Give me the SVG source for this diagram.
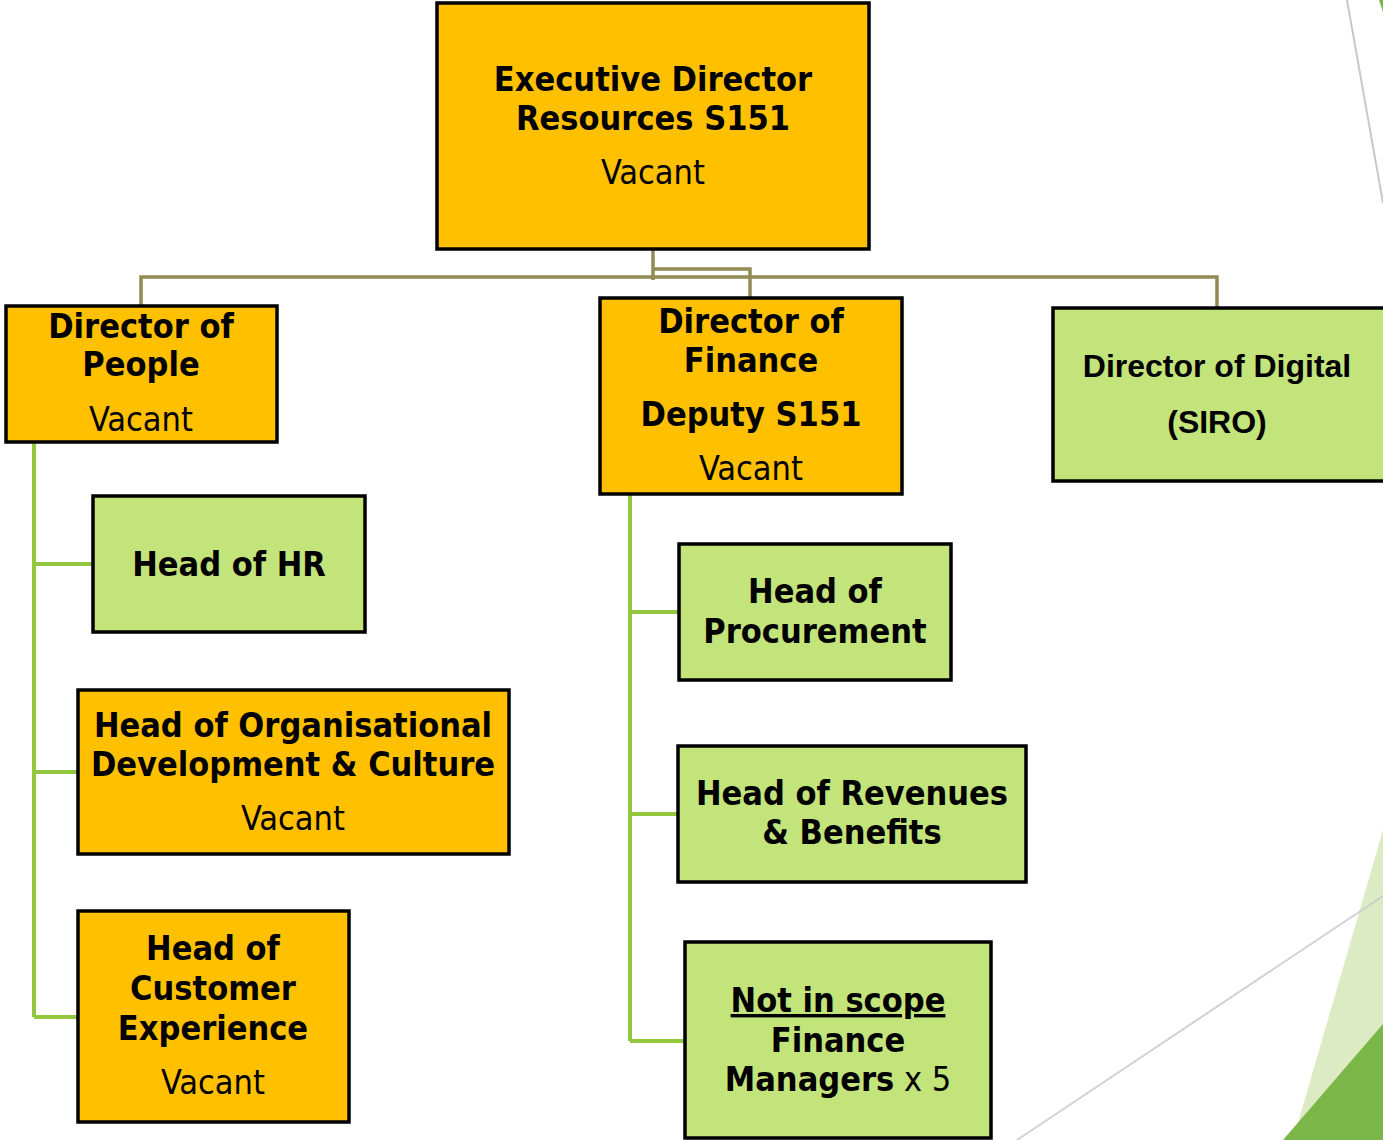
<svg xmlns="http://www.w3.org/2000/svg" width="1383" height="1140" viewBox="0 0 1383 1140">
<style>
.box{stroke:#000;stroke-width:3.5}
.or{fill:#FFC000}
.gr{fill:#C3E37B}
.t{font-family:"DejaVu Sans Condensed","DejaVu Sans",sans-serif;font-size:34px;text-anchor:middle;fill:#000}
.b{font-weight:bold}
.cal{font-family:"Liberation Sans",Arial,sans-serif;font-size:32px;font-weight:bold;text-anchor:middle}
.ol{fill:none;stroke:#948A54;stroke-width:3.5}
.gl{fill:none;stroke:#93C83E;stroke-width:4}
</style>
<rect width="1383" height="1140" fill="#fff"/>
<g id="decor">
<line x1="1347" y1="0" x2="1383" y2="203" stroke="#C8C8C8" stroke-width="2"/>
<polygon points="1379,0 1383,0 1383,12" fill="#7AB648"/>
<polygon points="1383,830 1293,1140 1383,1140" fill="#DDEBC4"/>
<polygon points="1383,1024 1283,1140 1383,1140" fill="#7AB648"/>
<line x1="1383" y1="896" x2="1017" y2="1140" stroke="#C8C8C8" stroke-width="2" opacity="0.8"/>
</g>
<g id="connectors">
<path class="ol" d="M141 306 V277 H1217 V308"/>
<path class="ol" d="M653 249 V280"/>
<path class="ol" d="M653 269 H750 V298"/>
<path class="gl" d="M34 443 V1017 M34 564 H93 M34 772 H78 M34 1017 H78"/>
<path class="gl" d="M630 495 V1041 M630 612 H679 M630 814 H678 M630 1041 H685"/>
</g>
<g id="exec">
<rect class="box or" x="437" y="3" width="432" height="246"/>
<text class="t b" x="653" y="91">Executive Director</text>
<text class="t b" x="653" y="130">Resources S151</text>
<text class="t" x="653" y="184">Vacant</text>
</g>
<g id="dir-people">
<rect class="box or" x="6" y="306" width="271" height="136"/>
<text class="t b" x="141" y="338">Director of</text>
<text class="t b" x="141" y="376">People</text>
<text class="t" x="141" y="431">Vacant</text>
</g>
<g id="dir-finance">
<rect class="box or" x="600" y="298" width="302" height="196"/>
<text class="t b" x="751" y="333">Director of</text>
<text class="t b" x="751" y="372">Finance</text>
<text class="t b" x="751" y="426">Deputy S151</text>
<text class="t" x="751" y="480">Vacant</text>
</g>
<g id="dir-digital">
<rect class="box gr" x="1053" y="308" width="332" height="173"/>
<text class="cal" x="1217" y="377">Director of Digital</text>
<text class="cal" x="1217" y="433">(SIRO)</text>
</g>
<g id="head-hr">
<rect class="box gr" x="93" y="496" width="272" height="136"/>
<text class="t b" x="229" y="576">Head of HR</text>
</g>
<g id="head-od">
<rect class="box or" x="78" y="690" width="431" height="164"/>
<text class="t b" x="293" y="737">Head of Organisational</text>
<text class="t b" x="293" y="776">Development &amp; Culture</text>
<text class="t" x="293" y="830">Vacant</text>
</g>
<g id="head-cx">
<rect class="box or" x="78" y="911" width="271" height="211"/>
<text class="t b" x="213" y="960">Head of</text>
<text class="t b" x="213" y="1000">Customer</text>
<text class="t b" x="213" y="1040">Experience</text>
<text class="t" x="213" y="1094">Vacant</text>
</g>
<g id="head-procurement">
<rect class="box gr" x="679" y="544" width="272" height="136"/>
<text class="t b" x="815" y="603">Head of</text>
<text class="t b" x="815" y="643">Procurement</text>
</g>
<g id="head-revenues">
<rect class="box gr" x="678" y="746" width="348" height="136"/>
<text class="t b" x="852" y="805">Head of Revenues</text>
<text class="t b" x="852" y="844">&amp; Benefits</text>
</g>
<g id="not-in-scope">
<rect class="box gr" x="685" y="942" width="306" height="196"/>
<text class="t b" x="838" y="1012" text-decoration="underline">Not in scope</text>
<text class="t b" x="838" y="1052">Finance</text>
<text class="t" x="838" y="1091"><tspan font-weight="bold">Managers</tspan> x 5</text>
</g>
</svg>
